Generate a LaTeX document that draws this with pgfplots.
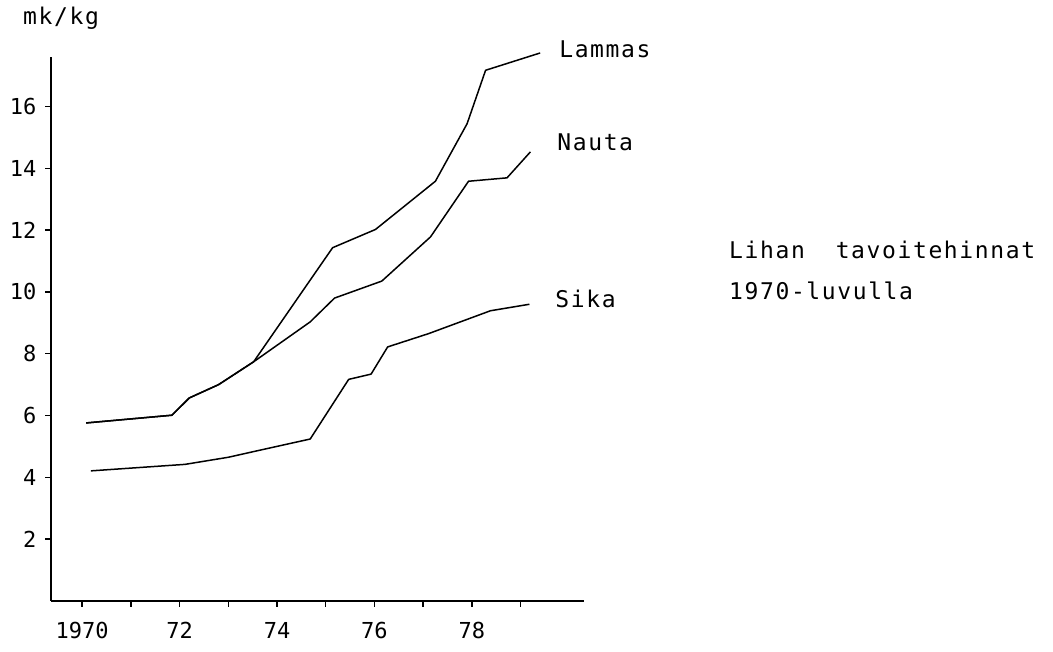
\documentclass[border=0pt]{standalone}
\usepackage{fontspec}
\setmainfont{DejaVu Sans Mono}
\newfontfamily\lblfont[LetterSpace=7]{DejaVu Sans Mono}
\usepackage{pgfplots}
\pgfplotsset{compat=1.18}
\begin{document}
\begin{tikzpicture}[x=1pt,y=1pt]
\useasboundingbox (0,0) rectangle (1053,652);
\begin{axis}[
  at={(51pt,51pt)}, anchor=south west,
  scale only axis, width=533pt, height=544pt,
  xmin=1969.36, xmax=1980.3, ymin=0, ymax=17.6,
  axis x line=bottom, axis y line=left,
  axis line style={-, line width=1.3pt},
  tick align=outside, major tick length=6pt,
  tick style={line width=1.4pt, black},
  xtick={1970,...,1979},
  xticklabels={1970,,72,,74,,76,,78,},
  ytick={2,4,...,16},
  /pgf/number format/assume math mode=true,
  ticklabel style={font=\fontsize{22}{26}\selectfont},
  xticklabel style={yshift=-12pt},
  yticklabel style={xshift=-5pt},
  clip=false,
]
\addplot[black, line width=1.5pt, line join=round, mark=none] coordinates {(1970.08,5.76) (1971.84,6.01) (1972.2,6.57) (1972.8,7.0) (1973.52,7.74) (1975.14,11.43) (1976.02,12.02) (1977.25,13.58) (1977.9,15.44) (1978.28,17.17) (1979.4,17.73)};
\addplot[black, line width=1.5pt, line join=round, mark=none] coordinates {(1970.08,5.76) (1971.84,6.01) (1972.2,6.57) (1972.8,7.0) (1973.52,7.74) (1974.68,9.03) (1975.18,9.8) (1976.15,10.35) (1977.15,11.78) (1977.93,13.58) (1978.72,13.69) (1979.2,14.53)};
\addplot[black, line width=1.5pt, line join=round, mark=none] coordinates {(1970.18,4.21) (1972.11,4.42) (1973.0,4.65) (1973.65,4.88) (1974.68,5.24) (1975.47,7.17) (1975.93,7.34) (1976.27,8.22) (1977.11,8.65) (1978.38,9.39) (1979.18,9.6)};
\node[anchor=base west, inner sep=0pt, font=\lblfont\fontsize{23}{27}\selectfont] at (axis cs:1979.79,17.58) {Lammas};
\node[anchor=base west, inner sep=0pt, font=\lblfont\fontsize{23}{27}\selectfont] at (axis cs:1979.75,14.58) {Nauta};
\node[anchor=base west, inner sep=0pt, font=\lblfont\fontsize{23}{27}\selectfont] at (axis cs:1979.71,9.5) {Sika};
\end{axis}
\node[anchor=base west, inner sep=0pt, font=\lblfont\fontsize{23}{27}\selectfont] at (23,627) {mk/kg};
\node[anchor=base west, inner sep=0pt, font=\lblfont\fontsize{23}{27}\selectfont] at (729,393) {Lihan~~tavoitehinnat};
\node[anchor=base west, inner sep=0pt, font=\lblfont\fontsize{23}{27}\selectfont] at (729,352) {1970-luvulla};
\end{tikzpicture}
\end{document}
